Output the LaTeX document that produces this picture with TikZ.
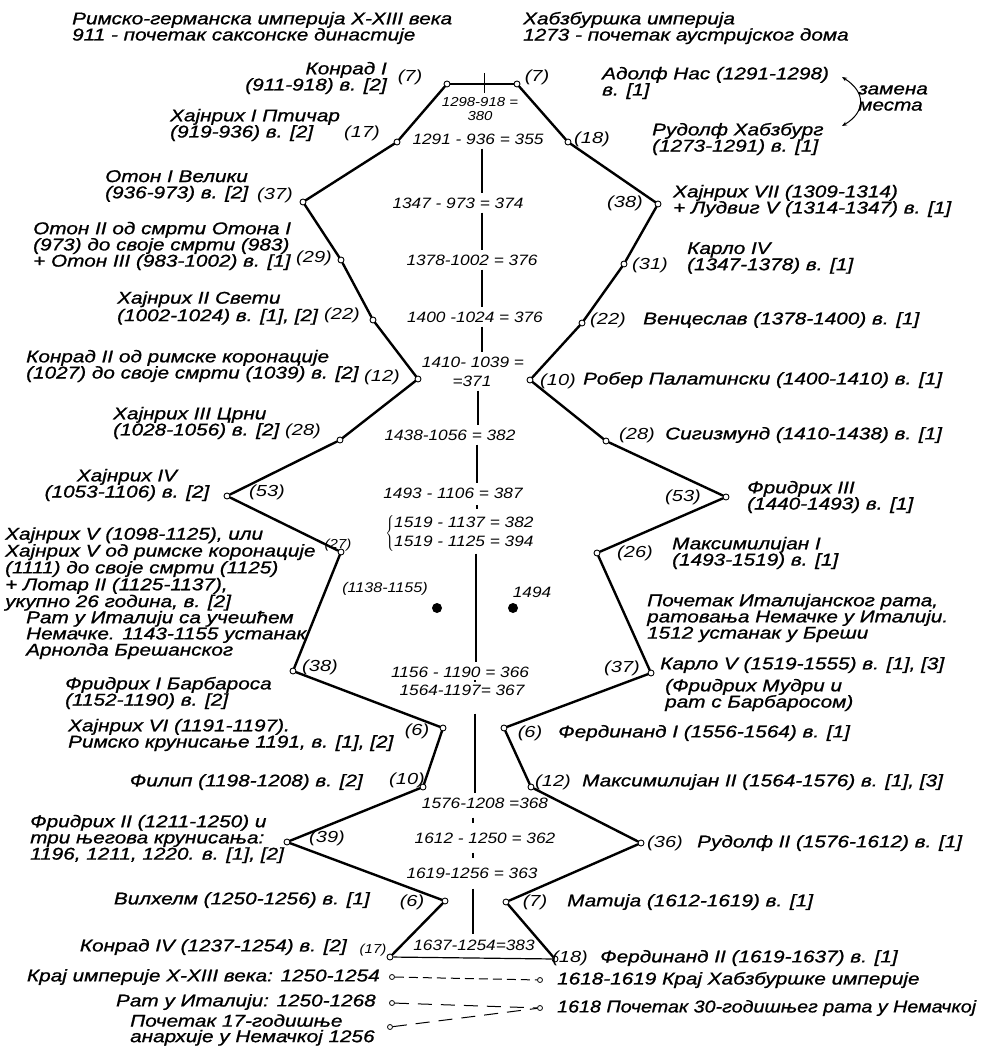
\documentclass[tikz,border=0pt]{standalone}
\usepackage{fontspec}
\usetikzlibrary{calc,arrows.meta}
\newfontfamily\lblfam{Liberation Sans}[FakeStretch=1.22,FakeBold=1]
\newfontfamily\cntfam{Liberation Sans}[FakeStretch=1.25]
\newfontfamily\numfam{Liberation Sans}[FakeStretch=1.15]
\tikzset{
  lbl/.style={font=\lblfam\itshape\fontsize{17}{16.2}\selectfont, inner sep=0pt, align=left},
  cnt/.style={font=\cntfam\itshape\fontsize{16}{16}\selectfont, inner sep=0pt},
  smallcnt/.style={font=\numfam\itshape\fontsize{13}{13}\selectfont, inner sep=0pt},
  diff/.style={font=\numfam\itshape\fontsize{15}{15}\selectfont, inner sep=4pt},
  vtx/.style={circle, draw, fill=white, inner sep=0pt, minimum size=6pt, line width=0.9pt},
  enddot/.style={circle, draw, fill=white, inner sep=0pt, minimum size=5pt, line width=0.8pt},
  chain/.style={line width=2.4pt, line cap=round},
  thinln/.style={line width=1.2pt},
  axis/.style={line width=1.1pt},
  legA/.style={line width=1pt, dash pattern=on 9pt off 5pt},
  legB/.style={line width=1pt, dash pattern=on 14pt off 9pt},
}
\begin{document}
\begin{tikzpicture}[x=1pt, y=-1pt]
\useasboundingbox (0,0) rectangle (984,1046);
% titles
\node[lbl, anchor=west] (ttlL) at (72,28) {Римско-германска империја X-XIII века\\911 - почетак саксонске династије};
\node[lbl, anchor=west] (ttlR) at (523,28) {Хабзбуршка империја\\1273 - почетак аустријског дома};

% vertices, left chain
\node[vtx] (l1) at (447,84) {};
\node[vtx] (l2) at (397,142) {};
\node[vtx] (l3) at (303,202) {};
\node[vtx] (l4) at (341,260) {};
\node[vtx] (l5) at (373,320) {};
\node[vtx] (l6) at (418,379) {};
\node[vtx] (l7) at (340,440) {};
\node[vtx] (l8) at (227,496) {};
\node[vtx] (l9) at (341,552) {};
\node[vtx] (l10) at (293,671) {};
\node[vtx] (l11) at (443,728) {};
\node[vtx] (l12) at (423,787) {};
\node[vtx] (l13) at (287,842) {};
\node[vtx] (l14) at (445,901) {};
\node[vtx] (l15) at (390,957) {};
% vertices, right chain
\node[vtx] (r1) at (517,84) {};
\node[vtx] (r2) at (568,142) {};
\node[vtx] (r3) at (658,204) {};
\node[vtx] (r4) at (624,264) {};
\node[vtx] (r5) at (582,323) {};
\node[vtx] (r6) at (530,380) {};
\node[vtx] (r7) at (606,441) {};
\node[vtx] (r8) at (726,497) {};
\node[vtx] (r9) at (597,553) {};
\node[vtx] (r10) at (651,673) {};
\node[vtx] (r11) at (504,728) {};
\node[vtx] (r12) at (531,787) {};
\node[vtx] (r13) at (641,843) {};
\node[vtx] (r14) at (506,902) {};
\node[vtx] (r15) at (555,959) {};

\draw[thinln] (l1) -- (r1);
\draw[thinln] (l15) -- (r15);
\draw[chain] (l1) -- (l2) -- (l3) -- (l4) -- (l5) -- (l6) -- (l7) -- (l8)
  -- (l9) -- (l10) -- (l11) -- (l12) -- (l13) -- (l14) -- (l15);
\draw[chain] (r1) -- (r2) -- (r3) -- (r4) -- (r5) -- (r6) -- (r7) -- (r8)
  -- (r9) -- (r10) -- (r11) -- (r12) -- (r13) -- (r14) -- (r15);

% left side labels
\node[lbl, anchor=east, align=right] (konrad1) at (387,78) {Конрад I\\(911-918) в. [2]};
\node[cnt] (nl1) at (410,77) {(7)};
\node[lbl, anchor=west] (hajnrih1) at (170,125) {Хајнрих I Птичар\\(919-936) в. [2]};
\node[cnt] (nl2) at (362,133) {(17)};
\node[lbl, anchor=west] (oton1) at (105,186) {Отон I Велики\\(936-973) в. [2]};
\node[cnt] (nl3) at (275,195) {(37)};
\node[lbl, anchor=west] (oton2) at (33,246) {Отон II од смрти Отона I\\(973) до своје смрти (983)\\+ Отон III (983-1002) в. [1]};
\node[cnt] (nl4) at (314,258) {(29)};
\node[lbl, anchor=west, font=\lblfam\itshape\fontsize{17}{17.5}\selectfont] (hajnrih2) at (117,308) {Хајнрих II Свети\\(1002-1024) в. [1], [2]};
\node[cnt] (nl5) at (342,315) {(22)};
\node[lbl, anchor=west] (konrad2) at (26,366) {Конрад II од римске коронације\\(1027) до своје смрти (1039) в. [2]};
\node[cnt] (nl6) at (382,377) {(12)};
\node[lbl, anchor=west] (hajnrih3) at (113,423) {Хајнрих III Црни\\(1028-1056) в. [2]};
\node[cnt] (nl7) at (303,431) {(28)};
\node[lbl, align=center] (hajnrih4) at (127,485) {Хајнрих IV\\(1053-1106) в. [2]};
\node[cnt] (nl8) at (267,492) {(53)};
\node[lbl, anchor=west, font=\lblfam\itshape\fontsize{17}{15}\selectfont] (hajnrih5) at (5,569) {Хајнрих V (1098-1125), или\\Хајнрих V од римске коронације\\(1111) до своје смрти (1125)\\+ Лотар II (1125-1137),\\укупно 26 година, в. [2]};
\node[smallcnt] (nl9) at (338,545) {(27)};
\node[lbl, anchor=west] (ratit) at (26,635) {Рат у Италији са учешћем\\Немачке. 1143-1155 устанак\\Арнолда Брешанског};
\node[cnt] (nl10) at (320,667) {(38)};
\node[lbl, anchor=west] (fridrih1) at (65,693) {Фридрих I Барбароса\\(1152-1190) в. [2]};
\node[lbl, anchor=west] (hajnrih6) at (68,735) {Хајнрих VI (1191-1197).\\Римско крунисање 1191, в. [1], [2]};
\node[cnt] (nl11) at (417,731) {(6)};
\node[lbl, anchor=east] (filip) at (363,782) {Филип (1198-1208) в. [2]};
\node[cnt] (nl12) at (407,780) {(10)};
\node[lbl, anchor=west] (fridrih2) at (30,839) {Фридрих II (1211-1250) и\\три његова крунисања:\\1196, 1211, 1220. в. [1], [2]};
\node[cnt] (nl13) at (327,838) {(39)};
\node[lbl, anchor=east] (vilhelm) at (370,900) {Вилхелм (1250-1256) в. [1]};
\node[cnt] (nl14) at (412,902) {(6)};
\node[lbl, anchor=east] (konrad4) at (347,947) {Конрад IV (1237-1254) в. [2]};
\node[smallcnt] (nl15) at (373,950) {(17)};

% right side labels
\node[cnt] (nr1) at (537,77) {(7)};
\node[lbl, anchor=west] (adolf) at (602,83) {Адолф Нас (1291-1298)\\в. [1]};
\node[lbl, anchor=west] (zamena) at (858,98) {замена\\места};
\node[lbl, anchor=west] (rudolf1) at (652,139) {Рудолф Хабзбург\\(1273-1291) в. [1]};
\node[cnt] (nr2) at (592,139) {(18)};
\node[lbl, anchor=west] (hajnrih7) at (673,201) {Хајнрих VII (1309-1314)\\+ Лудвиг V (1314-1347) в. [1]};
\node[cnt] (nr3) at (625,203) {(38)};
\node[lbl, anchor=west] (karlo4) at (687,258) {Карло IV\\(1347-1378) в. [1]};
\node[cnt] (nr4) at (650,265) {(31)};
\node[cnt] (nr5) at (608,320) {(22)};
\node[lbl, anchor=west] (venceslav) at (643,320) {Венцеслав (1378-1400) в. [1]};
\node[cnt] (nr6) at (558,381) {(10)};
\node[lbl, anchor=west] (rober) at (583,380) {Робер Палатински (1400-1410) в. [1]};
\node[cnt] (nr7) at (637,435) {(28)};
\node[lbl, anchor=west] (sigizmund) at (665,435) {Сигизмунд (1410-1438) в. [1]};
\node[cnt] (nr8) at (683,497) {(53)};
\node[lbl, anchor=west] (fridrih3) at (747,497) {Фридрих III\\(1440-1493) в. [1]};
\node[cnt] (nr9) at (635,553) {(26)};
\node[lbl, anchor=west] (maks1) at (672,553) {Максимилијан I\\(1493-1519) в. [1]};
\node[lbl, anchor=west] (pocetak) at (647,618) {Почетак Италијанског рата,\\ратовања Немачке у Италији.\\1512 устанак у Бреши};
\node[cnt] (nr10) at (622,668) {(37)};
\node[lbl, anchor=west] (karlo5) at (660,665) {Карло V (1519-1555) в. [1], [3]};
\node[lbl, anchor=west] (mudri) at (665,695) {(Фридрих Мудри и\\рат с Барбаросом)};
\node[cnt] (nr11) at (530,733) {(6)};
\node[lbl, anchor=west] (ferdinand1) at (558,733) {Фердинанд I (1556-1564) в. [1]};
\node[cnt] (nr12) at (553,782) {(12)};
\node[lbl, anchor=west] (maks2) at (582,782) {Максимилијан II (1564-1576) в. [1], [3]};
\node[cnt] (nr13) at (665,843) {(36)};
\node[lbl, anchor=west] (rudolf2) at (697,843) {Рудолф II (1576-1612) в. [1]};
\node[cnt] (nr14) at (535,902) {(7)};
\node[lbl, anchor=west] (matija) at (567,902) {Матија (1612-1619) в. [1]};
\node[cnt] (nr15) at (570,958) {(18)};
\node[lbl, anchor=west] (ferdinand2) at (600,958) {Фердинанд II (1619-1637) в. [1]};

% swap of places
\coordinate (sw1) at (842,77);
\coordinate (sw2) at (842,126);
\draw[line width=1pt, {Stealth[length=5pt,width=4pt]}-{Stealth[length=5pt,width=4pt]}]
  (sw1) .. controls (866,92) and (866,112) .. (sw2);

% differences along the middle
\coordinate (ax1) at (482,0);
\coordinate (ax2) at (475,0);
\node[smallcnt, inner sep=3pt] (c0a) at (480,102) {1298-918 =};
\node[smallcnt, inner sep=2pt] (c0b) at (480,116) {380};
\node[diff] (c1) at (478,139) {1291 - 936 = 355};
\node[diff] (c2) at (458,203) {1347 - 973 = 374};
\node[diff] (c3) at (472,260) {1378-1002 = 376};
\node[diff] (c4) at (475,317) {1400 -1024 = 376};
\node[diff] (c5a) at (473,362) {1410- 1039 =};
\node[diff] (c5b) at (472,381) {=371};
\node[diff] (c6) at (450,435) {1438-1056 = 382};
\node[diff] (c7) at (453,493) {1493 - 1106 = 387};
\node[diff, inner sep=1pt] (c8) at (460,533) {$\left\{\vcenter{\hbox{\def\arraystretch{1.3}\begin{tabular}{@{}l@{}}1519 - 1137 = 382\\1519 - 1125 = 394\end{tabular}}}\right.$};
\node[diff, font=\numfam\itshape\fontsize{14}{14}\selectfont] (yr1) at (385,589) {(1138-1155)};
\node[diff] (yr2) at (532,592) {1494};
\fill (437,608) circle (5pt);
\fill (513,608) circle (5pt);
\node[diff] (c9) at (460,672) {1156 - 1190 = 366};
\node[diff] (c10) at (462,690) {1564-1197= 367};
\node[diff] (c11) at (485,803) {1576-1208 =368};
\node[diff] (c12) at (485,838) {1612 - 1250 = 362};
\node[diff] (c13) at (472,873) {1619-1256 = 363};
\node[diff] (c14) at (474,945) {1637-1254=383};

\draw[axis] ($(l1)!0.54!(r1)$) ++(0,-11) -- ++(0,20);
\draw[axis] (c1.south -| ax1) -- (c2.north -| ax1);
\draw[axis] (c2.south -| ax1) -- (c3.north -| ax1);
\draw[axis] (c3.south -| ax1) -- (c4.north -| ax1);
\draw[axis] (c4.south -| ax1) -- (c5a.north -| ax1);
\draw[axis] (c5b.south -| ax2) ++(3,0) -- ($(c6.north -| ax2)+(3,0)$);
\draw[axis] (c6.south -| ax2) ++(2,0) -- ($(c7.north -| ax2)+(2,0)$);
\draw[axis] ($(c7.south -| ax2)!0.5!(c8.north -| ax2)+(2,-2)$) -- ++(0,4);
\draw[axis] (c8.south -| ax2) ++(1,0) -- ($(c9.north -| ax2)+(1,0)$);
\draw[axis] ($(c9.south -| ax2)!0.5!(c10.north -| ax2)$) ++(0,-1) -- ++(0,2);
\draw[axis] (c10.south -| ax2) ++(0,14) -- (c11.north -| ax2);
\draw[axis] ($(c11.south -| ax2)!0.5!(c12.north -| ax2)+(-2,-3)$) -- ++(0,5);
\draw[axis] ($(c12.south -| ax2)!0.5!(c13.north -| ax2)+(-2,-3)$) -- ++(0,5);
\draw[axis] (c13.south -| ax2) ++(-2,6) -- ($(c14.north -| ax2)+(-2,-2)$);

% endings
\node[lbl, anchor=east] (krajL) at (380,977) {Крај империје X-XIII века: 1250-1254};
\node[enddot] (e1a) at (392,977) {};
\node[enddot] (e1b) at (540,980) {};
\node[lbl, anchor=west] (krajR) at (557,980) {1618-1619 Крај Хабзбуршке империје};
\draw[legA] (e1a) -- (e1b);
\node[lbl, anchor=east] (ratL) at (376,1002) {Рат у Италији: 1250-1268};
\node[enddot] (e2a) at (392,1003) {};
\node[enddot] (e2b) at (540,1008) {};
\node[lbl, anchor=west, transform shape, xscale=0.95] (ratR) at (557,1008) {1618 Почетак 30-годишњег рата у Немачкој};
\draw[legB] (e2a) -- (e2b);
\node[lbl, anchor=west, font=\lblfam\itshape\fontsize{17}{15.5}\selectfont] (anarh) at (130,1030) {Почетак 17-годишње\\анархије у Немачкој 1256};
\node[enddot] (e3a) at (390,1027) {};
\draw[legB] (e3a) -- (e2b);
\end{tikzpicture}
\end{document}
